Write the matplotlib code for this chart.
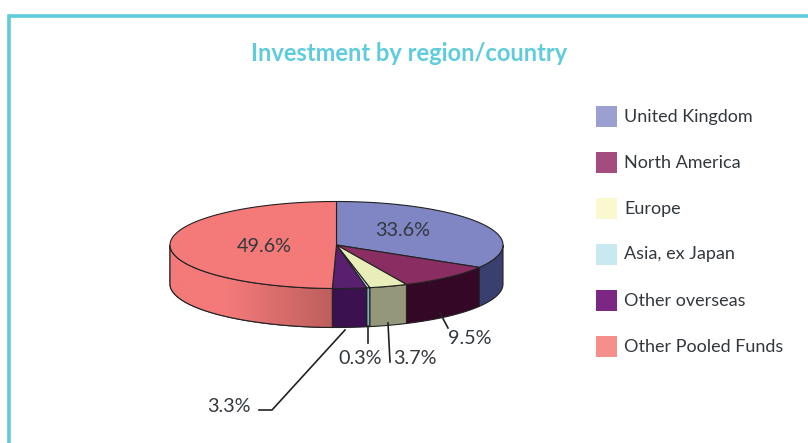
import numpy as np
import matplotlib
matplotlib.use('Agg')
import matplotlib.pyplot as plt
from matplotlib.colors import LinearSegmentedColormap
from matplotlib.patches import Polygon, Rectangle

regions = ['United Kingdom', 'North America', 'Europe', 'Asia, ex Japan', 'Other overseas', 'Other Pooled Funds']
values = [33.6, 9.5, 3.7, 0.3, 3.3, 49.6]
labels = ['33.6%', '9.5%', '3.7%', '0.3%', '3.3%', '49.6%']
top_colors = ['#7f86c3', '#8a2d62', '#e9eeb9', '#b9e0ea', '#5a2070', '#f47a7a']
side_colors = ['#39406f', '#340726', '#94977a', '#7fb0be', '#3b114f', '#f47a7a']
legend_colors = ['#9ca0d0', '#a54c7e', '#faf8cf', '#c9e9f0', '#7b2783', '#f58f8c']

# pie geometry in pixels
cx, cy = 336.5, 245
rx, ry = 166.5, 43.5
depth = 39
teal = '#5fccdb'
dark = '#33383d'
font = ['Lato', 'DejaVu Sans']


def rim(a, b, n=120):
    t = np.radians(np.linspace(a, b, n))
    return np.column_stack([cx + rx * np.sin(t), cy - ry * np.cos(t)])


fig = plt.figure(figsize=(8.08, 4.43), dpi=100)
ax = fig.add_axes([0, 0, 1, 1])
ax.set_xlim(0, 808)
ax.set_ylim(443, 0)
ax.axis('off')

# frame
ax.plot([9, 9, 808], [443, 16, 16], color=teal, lw=2.6, solid_joinstyle='miter')

ax.text(409, 53, 'Investment by region/country', color=teal, fontsize=17,
        fontweight='bold', ha='center', va='center', family=font)

edges = np.concatenate([[0], np.cumsum(values)]) / sum(values) * 360

# sides first, only the front half of the rim shows
for i in range(len(values)):
    a = max(edges[i], 90)
    b = min(edges[i + 1], 270)
    if b <= a:
        continue
    arc = rim(a, b)
    pts = np.vstack([arc, arc[::-1] + [0, depth]])
    poly = Polygon(pts, closed=True, facecolor=side_colors[i], edgecolor='#222222', lw=0.8, zorder=2)
    ax.add_patch(poly)
    if regions[i] == 'Other Pooled Funds':
        cmap = LinearSegmentedColormap.from_list('side', [(0, '#f47a7a'), (0.35, '#f47a7a'), (1, '#bd5f5d')])
        x0, x1 = pts[:, 0].min(), pts[:, 0].max()
        y0, y1 = pts[:, 1].min(), pts[:, 1].max()
        im = ax.imshow(np.linspace(0, 1, 256)[None, :], cmap=cmap, aspect='auto',
                       extent=[x0, x1, y1, y0], zorder=2.1)
        im.set_clip_path(poly)
        ax.add_patch(Polygon(pts, closed=True, fill=False, edgecolor='#222222', lw=0.8, zorder=2.2))

ax.set_xlim(0, 808)
ax.set_ylim(443, 0)

# top face
for i in range(len(values)):
    arc = rim(edges[i], edges[i + 1])
    pts = np.vstack([[cx, cy], arc])
    ax.add_patch(Polygon(pts, closed=True, facecolor=top_colors[i], edgecolor='#222222', lw=0.8, zorder=3))

# labels and leader lines
ax.text(403, 230, labels[0], color=dark, fontsize=14.2, ha='center', va='center', family=font, zorder=5)
ax.text(264.5, 246, labels[5], color=dark, fontsize=14.2, ha='center', va='center', family=font, zorder=5)
ax.text(470, 338, labels[1], color=dark, fontsize=14.2, ha='center', va='center', family=font)
ax.text(415, 358, labels[2], color=dark, fontsize=14.2, ha='center', va='center', family=font)
ax.text(360, 359, labels[3], color=dark, fontsize=14.2, ha='center', va='center', family=font)
ax.text(229, 406, labels[4], color=dark, fontsize=14.2, ha='center', va='center', family=font)

ax.plot([440, 448], [313, 328], color='#222222', lw=1.2)
ax.plot([388, 390], [323, 362], color='#222222', lw=1.2)
ax.plot([368, 368], [326, 343], color='#222222', lw=1.2)
ax.plot([345, 272, 259], [330, 410, 410], color='#222222', lw=1.2)

# legend
for i, name in enumerate(regions):
    top = 106 + i * 46
    ax.add_patch(Rectangle((596, top), 21, 21, facecolor=legend_colors[i], edgecolor='none'))
    ax.text(624, top + 10.5, name, color=dark, fontsize=13, ha='left', va='center', family=font)

fig.savefig('out.png', dpi=100)
